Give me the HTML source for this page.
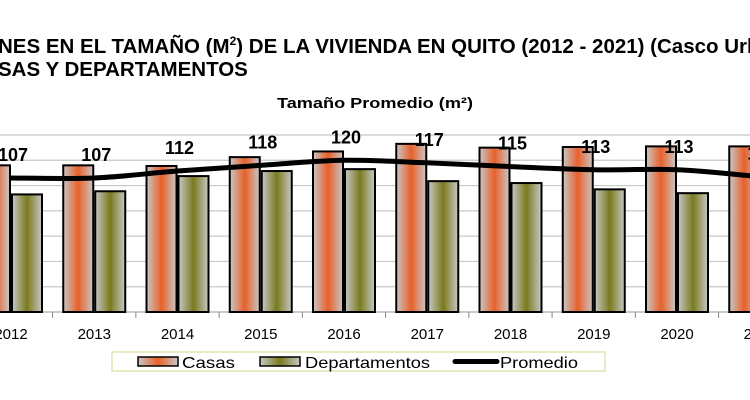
<!DOCTYPE html>
<html><head><meta charset="utf-8"><style>
body{margin:0;width:750px;height:400px;background:#fff;overflow:hidden;font-family:"Liberation Sans",Arial,sans-serif;}
svg{position:absolute;left:0;top:0}
</style></head><body>
<svg width="750" height="400">
<defs>
<linearGradient id="gc" x1="0" x2="1"><stop offset="0" stop-color="#c8c8c8"/><stop offset="0.5" stop-color="#e8602a"/><stop offset="1" stop-color="#c8c8c8"/></linearGradient>
<linearGradient id="gd" x1="0" x2="1"><stop offset="0" stop-color="#c8c8c8"/><stop offset="0.5" stop-color="#7a7a1e"/><stop offset="1" stop-color="#c8c8c8"/></linearGradient>
</defs>
<text x="-2" y="53" font-size="20.5" font-weight="bold">NES EN EL TAMAÑO (M<tspan font-size="12" dy="-8">2</tspan><tspan dy="8">) DE LA VIVIENDA EN QUITO (2012 - 2021) (Casco Urbano)</tspan></text>
<text x="-2" y="76" font-size="20.5" font-weight="bold">SAS Y DEPARTAMENTOS</text>
<text x="277" y="108" font-size="15" font-weight="bold" textLength="196" lengthAdjust="spacingAndGlyphs">Tamaño Promedio (m²)</text>
<g id="grid"></g><g id="bars"></g><g id="line"></g><g id="labels"></g>
<rect x="112" y="352" width="493" height="19" fill="#fff" stroke="#dfe6b0" stroke-width="1.5"/>
<rect x="138" y="357" width="40" height="9" fill="url(#gc)" stroke="#000" stroke-width="1.5"/>
<text x="182" y="368" font-size="16" textLength="53" lengthAdjust="spacingAndGlyphs">Casas</text>
<rect x="260" y="357" width="40" height="9" fill="url(#gd)" stroke="#000" stroke-width="1.5"/>
<text x="305" y="368" font-size="16" textLength="125" lengthAdjust="spacingAndGlyphs">Departamentos</text>
<line x1="455" y1="361.5" x2="497" y2="361.5" stroke="#000" stroke-width="5" stroke-linecap="round"/>
<text x="500" y="368" font-size="16" textLength="78" lengthAdjust="spacingAndGlyphs">Promedio</text>
</svg>
<script>
const years=["2012","2013","2014","2015","2016","2017","2018","2019","2020","2021"];
const casas=[116,116,115.5,122.5,127,133,130,130.5,131,131];
const departamentos=[93,95.5,107.5,111.5,113,103.5,102,97,94,100];
const promedio=[106,106,111.5,116,120,118,115,112.5,112.5,107];
const promedioLabels=["107","107","112","118","120","117","115","113","113","108"];
const yTicks=[0,20,40,60,80,100,120,140];
const NS="http://www.w3.org/2000/svg";
const base=312,top_=135,vmax=140;
function y(v){return base-(v/vmax)*(base-top_);}
function cx(i){return 11+83.25*i;}
function mk(t,a,p){const e=document.createElementNS(NS,t);for(const k in a)e.setAttribute(k,a[k]);document.getElementById(p).appendChild(e);return e;}
yTicks.forEach(v=>{if(v===0)return;
const l=mk('line',{x1:0,x2:750,y1:y(v),y2:y(v),stroke:'#c8c8c8','stroke-width':1.2},'grid');

});
const ax=mk('line',{x1:0,x2:750,y1:base,y2:base,stroke:'#999','stroke-width':1},'grid');


years.forEach((yr,i)=>{
const tk=mk('line',{x1:cx(i)+41.6,x2:cx(i)+41.6,y1:base,y2:base+6,stroke:'#888'},'grid');


const t=mk('text',{x:cx(i),y:339,'font-size':15,'text-anchor':'middle'},'labels');t.textContent=yr;


const b1=mk('rect',{x:cx(i)-31,y:y(casas[i]),width:30,height:base-y(casas[i]),fill:'url(#gc)',stroke:'#000','stroke-width':2},'bars');


const b2=mk('rect',{x:cx(i)+1,y:y(departamentos[i]),width:30,height:base-y(departamentos[i]),fill:'url(#gd)',stroke:'#000','stroke-width':2},'bars');


const lb=mk('text',{x:cx(i)+2,y:y(promedio[i])-17,'font-size':18,'font-weight':'bold','text-anchor':'middle'},'labels');lb.textContent=promedioLabels[i];


});
const pts=promedio.map((v,i)=>[cx(i),y(v)]);
let d='M'+pts[0][0]+','+pts[0][1];
for(let i=0;i<pts.length-1;i++){const p0=pts[Math.max(0,i-1)],p1=pts[i],p2=pts[i+1],p3=pts[Math.min(pts.length-1,i+2)];
d+=' C'+(p1[0]+(p2[0]-p0[0])/6)+','+(p1[1]+(p2[1]-p0[1])/6)+' '+(p2[0]-(p3[0]-p1[0])/6)+','+(p2[1]-(p3[1]-p1[1])/6)+' '+p2[0]+','+p2[1];}
const pl=mk('path',{d:d,fill:'none',stroke:'#000','stroke-width':5},'line');


</script>
</body></html>
